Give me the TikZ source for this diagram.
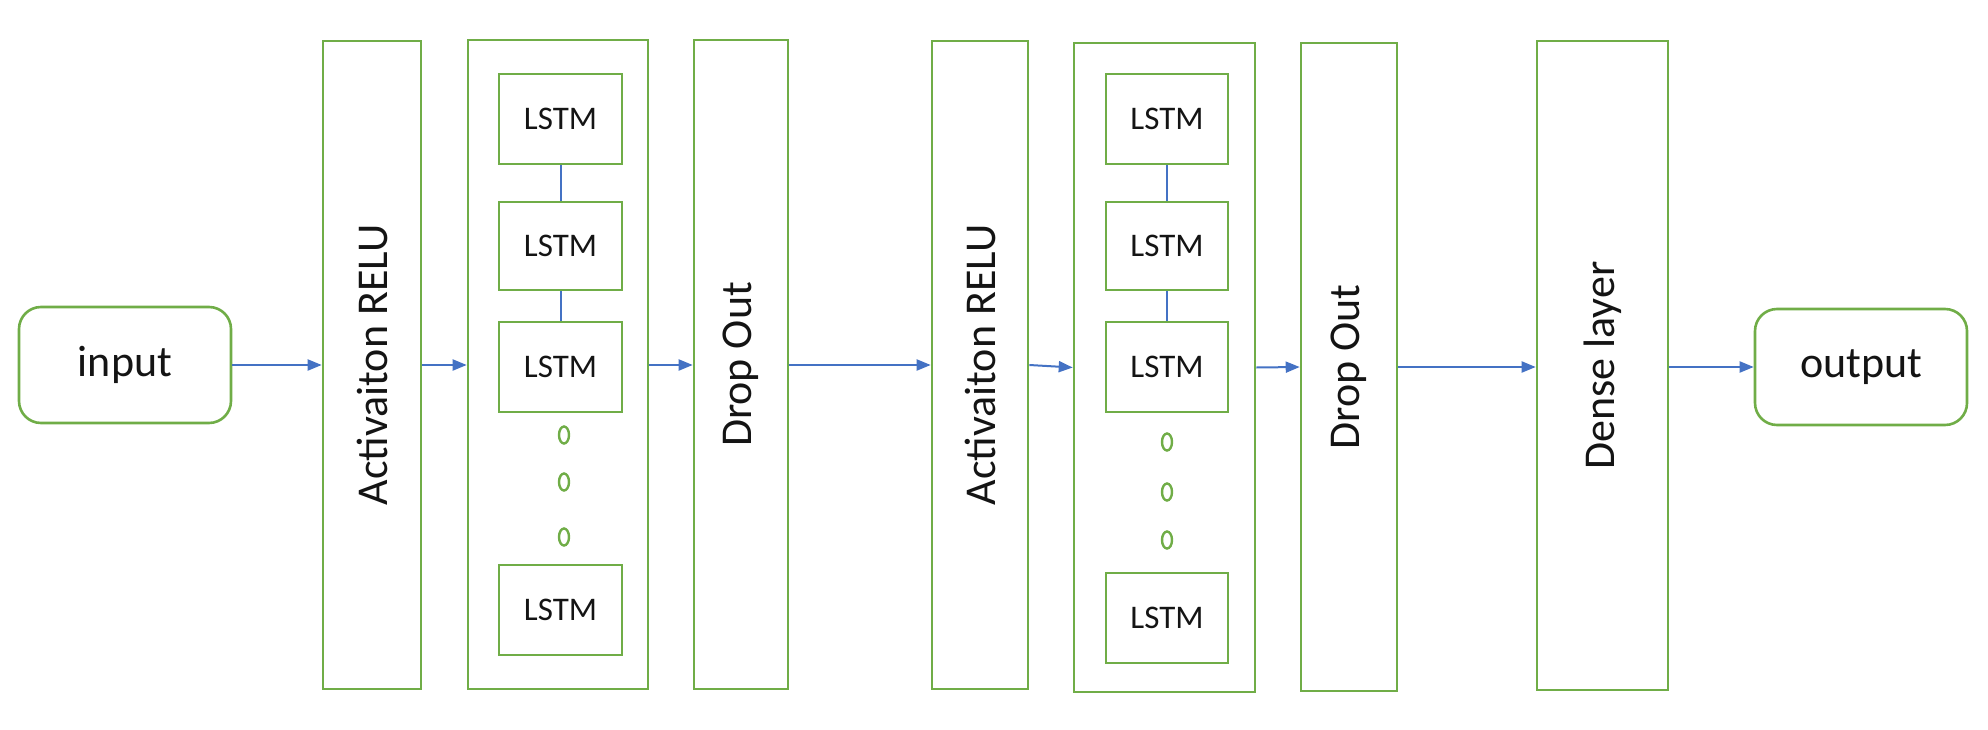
\documentclass[tikz,border=0pt]{standalone}
\usepackage{fontspec}
\setmainfont{Carlito}
\usetikzlibrary{arrows.meta,shapes.geometric}
\definecolor{boxgreen}{RGB}{112,173,71}
\definecolor{arrowblue}{RGB}{68,114,196}
\definecolor{textgray}{RGB}{20,20,20}
\tikzset{
  layerbox/.style={draw=boxgreen, line width=2.6pt, rectangle, inner sep=0pt, text=textgray,
    font=\fontsize{44}{50}\selectfont},
  cellbox/.style={draw=boxgreen, line width=2.6pt, rectangle, inner sep=0pt, text=textgray,
    minimum width=123pt, minimum height=90pt, font=\fontsize{33}{38}\selectfont},
  endbox/.style={draw=boxgreen, line width=2.6pt, rectangle, rounded corners=22pt, inner sep=0pt,
    minimum width=212pt, minimum height=116pt, text=textgray, font=\fontsize{44}{50}\selectfont},
  dotmark/.style={draw=boxgreen, line width=2.4pt, ellipse, inner sep=0pt, minimum width=10pt, minimum height=17pt},
  flow/.style={draw=arrowblue, line width=2pt, -{Triangle[length=14pt,width=11pt]}},
  link/.style={draw=arrowblue, line width=2pt}
}
\begin{document}
\begin{tikzpicture}[x=1pt,y=-1pt]
\useasboundingbox (0,0) rectangle (1988,730);
% end boxes
\node[endbox] (in) at (125,365) {input};
\node[endbox] (out) at (1861,367) {output};
% first block
\node[layerbox, minimum width=98pt, minimum height=648pt] (act1) at (372,365) {\rotatebox{90}{Activaiton RELU}};
\node[layerbox, minimum width=180pt, minimum height=649pt] (cont1) at (558,364.5) {};
\node[cellbox] (l11) at (560.5,119) {LSTM};
\node[cellbox, minimum height=88pt] (l12) at (560.5,246) {LSTM};
\node[cellbox] (l13) at (560.5,367) {LSTM};
\node[cellbox] (l14) at (560.5,610) {LSTM};
\node[dotmark] (d11) at (564,435) {};
\node[dotmark] (d12) at (564,482) {};
\node[dotmark] (d13) at (564,537) {};
\node[layerbox, minimum width=94pt, minimum height=649pt] (drop1) at (741,364.5) {\rotatebox{90}{Drop Out}};
% second block
\node[layerbox, minimum width=96pt, minimum height=648pt] (act2) at (980,365) {\rotatebox{90}{Activaiton RELU}};
\node[layerbox, minimum width=181pt, minimum height=649pt] (cont2) at (1164.5,367.5) {};
\node[cellbox, minimum width=122pt] (l21) at (1167,119) {LSTM};
\node[cellbox, minimum width=122pt, minimum height=88pt] (l22) at (1167,246) {LSTM};
\node[cellbox, minimum width=122pt] (l23) at (1167,367) {LSTM};
\node[cellbox, minimum width=122pt] (l24) at (1167,618) {LSTM};
\node[dotmark] (d21) at (1167,442) {};
\node[dotmark] (d22) at (1167,492) {};
\node[dotmark] (d23) at (1167,540) {};
\node[layerbox, minimum width=96pt, minimum height=648pt] (drop2) at (1349,367) {\rotatebox{90}{Drop Out}};
\node[layerbox, minimum width=131pt, minimum height=649pt] (dense) at (1602.5,365.5) {\rotatebox{90}{Dense layer}};
% LSTM links
\draw[link] (l11) -- (l12);
\draw[link] (l12) -- (l13);
\draw[link] (l21) -- (l22);
\draw[link] (l22) -- (l23);
% flow arrows
\draw[flow] (in.east) -- (act1.west |- in.east);
\draw[flow] (act1.east |- in.east) -- (cont1.west |- in.east);
\draw[flow] (cont1.east |- in.east) -- (drop1.west |- in.east);
\draw[flow] (drop1.east |- act2.east) -- (act2.west);
\draw[flow] (act2.east) -- (cont2.west);
\draw[flow] (cont2.east) -- (drop2.west);
\draw[flow] (drop2.east) -- (dense.west |- drop2.east);
\draw[flow] (dense.east |- out.west) -- (out.west);
\end{tikzpicture}
\end{document}
